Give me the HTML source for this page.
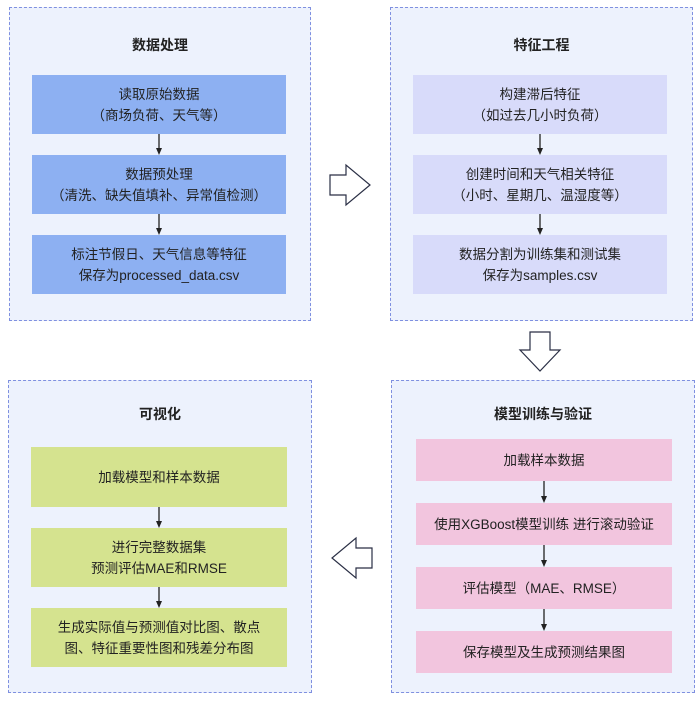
<!DOCTYPE html>
<html><head><meta charset="utf-8"><style>
body{margin:0;width:700px;height:702px;background:#fff;position:relative;overflow:hidden;font-family:"Liberation Sans","Noto Sans CJK SC",sans-serif;color:#222}
.p{position:absolute;box-sizing:border-box;background:#edf2fd;border:1.5px dashed #7f90e0}
.t{position:absolute;left:0;right:0;text-align:center;font-weight:bold;font-size:14px}
.b{position:absolute;box-sizing:border-box;display:flex;align-items:center;justify-content:center;text-align:center;font-size:13.5px;line-height:21px}
.bl{background:#8db0f2}.pu{background:#d8dbfa}.gr{background:#d5e38f}.pk{background:#f2c5de}
svg{position:absolute;left:0;top:0}
</style></head><body>
<div class="p" style="left:9px;top:7px;width:302px;height:314px"><div class="t" style="top:27px">数据处理</div></div>
<div class="p" style="left:390px;top:7px;width:303px;height:314px"><div class="t" style="top:27px">特征工程</div></div>
<div class="p" style="left:8px;top:380px;width:304px;height:313px"><div class="t" style="top:23px">可视化</div></div>
<div class="p" style="left:391px;top:380px;width:304px;height:313px"><div class="t" style="top:23px">模型训练与验证</div></div>

<div class="b bl" style="left:32px;top:75px;width:254px;height:59px">读取原始数据<br>（商场负荷、天气等）</div>
<div class="b bl" style="left:32px;top:155px;width:254px;height:59px">数据预处理<br>（清洗、缺失值填补、异常值检测）</div>
<div class="b bl" style="left:32px;top:235px;width:254px;height:59px">标注节假日、天气信息等特征<br>保存为processed_data.csv</div>

<div class="b pu" style="left:413px;top:75px;width:254px;height:59px">构建滞后特征<br>（如过去几小时负荷）</div>
<div class="b pu" style="left:413px;top:155px;width:254px;height:59px">创建时间和天气相关特征<br>（小时、星期几、温湿度等）</div>
<div class="b pu" style="left:413px;top:235px;width:254px;height:59px">数据分割为训练集和测试集<br>保存为samples.csv</div>

<div class="b gr" style="left:31px;top:447px;width:256px;height:60px">加载模型和样本数据</div>
<div class="b gr" style="left:31px;top:528px;width:256px;height:59px">进行完整数据集<br>预测评估MAE和RMSE</div>
<div class="b gr" style="left:31px;top:608px;width:256px;height:59px">生成实际值与预测值对比图、散点<br>图、特征重要性图和残差分布图</div>

<div class="b pk" style="left:416px;top:439px;width:256px;height:42px">加载样本数据</div>
<div class="b pk" style="left:416px;top:503px;width:256px;height:42px">使用XGBoost模型训练 进行滚动验证</div>
<div class="b pk" style="left:416px;top:567px;width:256px;height:42px">评估模型（MAE、RMSE）</div>
<div class="b pk" style="left:416px;top:631px;width:256px;height:42px">保存模型及生成预测结果图</div>

<svg width="700" height="702">
<defs><marker id="a" markerWidth="8" markerHeight="8" refX="4" refY="4" orient="auto" markerUnits="userSpaceOnUse"><path d="M0,1 L7,4 L0,7 z" fill="#222"/></marker></defs>
<g stroke="#222" stroke-width="1.3" fill="none">
<line x1="159" y1="134" x2="159" y2="152" marker-end="url(#a)"/>
<line x1="159" y1="214" x2="159" y2="232" marker-end="url(#a)"/>
<line x1="540" y1="134" x2="540" y2="152" marker-end="url(#a)"/>
<line x1="540" y1="214" x2="540" y2="232" marker-end="url(#a)"/>
<line x1="159" y1="507" x2="159" y2="525" marker-end="url(#a)"/>
<line x1="159" y1="587" x2="159" y2="605" marker-end="url(#a)"/>
<line x1="544" y1="481" x2="544" y2="500" marker-end="url(#a)"/>
<line x1="544" y1="545" x2="544" y2="564" marker-end="url(#a)"/>
<line x1="544" y1="609" x2="544" y2="628" marker-end="url(#a)"/>
</g>
<g stroke="#2a2f45" stroke-width="1.2" fill="#fff">
<path d="M330,175 L346,175 L346,165 L370,185 L346,205 L346,195 L330,195 z"/>
<path d="M530,332 L550,332 L550,350 L560,350 L540,371 L520,350 L530,350 z"/>
<path d="M372,548 L356,548 L356,538 L332,558 L356,578 L356,568 L372,568 z"/>
</g>
</svg>
</body></html>
